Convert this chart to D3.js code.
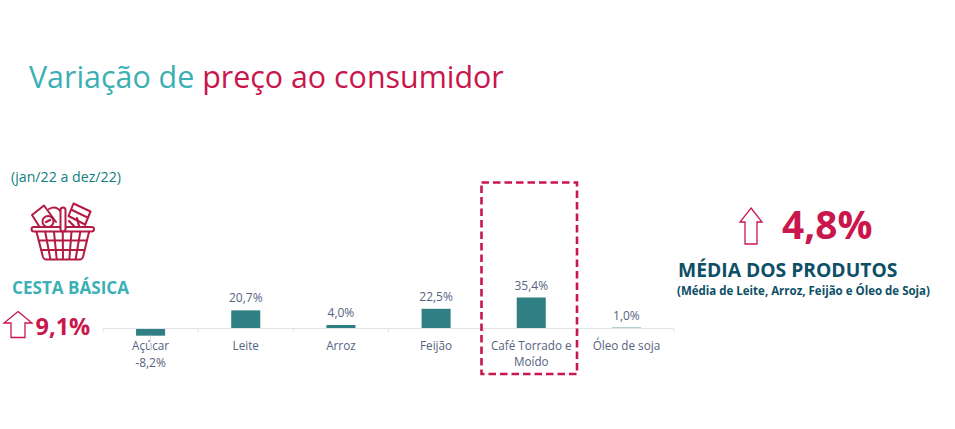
<!DOCTYPE html>
<html lang="pt-BR">
<head>
<meta charset="utf-8">
<title>Variação de preço ao consumidor</title>
<script src="https://cdn.jsdelivr.net/npm/d3@7/dist/d3.min.js"></script>
<style>
  html, body { margin: 0; padding: 0; background: #fff; }
  svg { display: block; font-family: "Open Sans", "Noto Sans", sans-serif; }
</style>
</head>
<body>
<svg id="chart" width="955" height="429"></svg>
<script>
// Variação de preço por produto, jan/22 a dez/22
const categories = ["Açúcar", "Leite", "Arroz", "Feijão", "Café Torrado e|Moído", "Óleo de soja"];
const values = [-8.2, 20.7, 4.0, 22.5, 35.4, 1.0];

const TEAL = "#3bb0b5", CRIMSON = "#c9164c", BAR = "#2f7f84",
      DARK = "#0d4f66", LABEL = "#56637f", GRID = "#dfe3ea", ICON = "#b31b42";
const fmt = v => v.toFixed(1).replace(".", ",") + "%";

const svg = d3.select("#chart");

// Título em duas cores
const title = svg.append("text").attr("x", 29).attr("y", 87.5).attr("font-size", 30.4);
title.append("tspan").attr("fill", TEAL).text("Variação de ");
title.append("tspan").attr("fill", CRIMSON).text("preço ao consumidor");

// Escalas do gráfico de colunas
const x = d3.scaleBand().domain(categories).range([103, 674]).paddingInner(0.695).paddingOuter(0.3475);
const y = d3.scaleLinear().domain([0, 35.4]).range([328.5, 297.5]);
const step = x.step();
const x0 = x.range()[0];

// Colunas
svg.append("g").selectAll("rect").data(values).join("rect")
    .attr("x", (d, i) => x(categories[i]))
    .attr("width", x.bandwidth())
    .attr("y", d => y(Math.max(d, 0)))
    .attr("height", d => Math.abs(y(d) - y(0)))
    .attr("fill", BAR);

// Eixo de categorias: linha de base e marcas nas divisas de cada faixa
const axis = svg.append("g");
axis.append("line").attr("x1", x0).attr("x2", x.range()[1])
    .attr("y1", y(0)).attr("y2", y(0)).attr("stroke", GRID);
axis.selectAll("line.tick").data(d3.range(categories.length + 1)).join("line")
    .attr("class", "tick")
    .attr("x1", i => x0 + i * step).attr("x2", i => x0 + i * step)
    .attr("y1", y(0)).attr("y2", y(0) + 4).attr("stroke", GRID);

// Nomes das categorias, em até duas linhas
svg.append("g").selectAll("text").data(categories).join("text")
    .attr("text-anchor", "middle").attr("font-size", 11.7).attr("fill", LABEL)
    .each(function (d) {
      const cx = x(d) + x.bandwidth() / 2;
      d3.select(this).selectAll("tspan").data(d.split("|")).join("tspan")
        .attr("x", cx).attr("y", (s, i) => 349.5 + i * 16.5).text(s => s);
    });

// Rótulos de valor; o negativo fica abaixo do nome, ligado à coluna
const labelled = values.map((v, i) => ({ v, c: categories[i] }));
svg.append("g").selectAll("line").data(labelled.filter(d => d.v < 0)).join("line")
    .attr("x1", d => x(d.c) + x.bandwidth() / 2).attr("x2", d => x(d.c) + x.bandwidth() / 2)
    .attr("y1", d => y(d.v)).attr("y2", d => y(d.v) + 15)
    .attr("stroke", GRID);
svg.append("g").selectAll("text").data(labelled).join("text")
    .attr("text-anchor", "middle").attr("font-size", 12).attr("fill", LABEL)
    .attr("x", d => x(d.c) + x.bandwidth() / 2)
    .attr("y", d => d.v < 0 ? 366.5 : y(d.v) - 8)
    .text(d => fmt(d.v));

// Destaque tracejado em Café Torrado e Moído
svg.append("rect").attr("x", 481.5).attr("y", 182.5).attr("width", 95.5).attr("height", 191.5)
    .attr("fill", "none").attr("stroke", CRIMSON).attr("stroke-width", 2.6)
    .attr("stroke-dasharray", "7.5 4");

// Seta vazada para cima
function arrow(left, top, right, bottom, headBase, inset) {
  const mid = (left + right) / 2;
  const p = d3.path();
  p.moveTo(mid, top);
  p.lineTo(right, headBase);
  p.lineTo(right - inset, headBase);
  p.lineTo(right - inset, bottom);
  p.lineTo(left + inset, bottom);
  p.lineTo(left + inset, headBase);
  p.lineTo(left, headBase);
  p.closePath();
  svg.append("path").attr("d", p.toString()).attr("fill", "#fff")
     .attr("stroke", CRIMSON).attr("stroke-width", 1.3).attr("stroke-linejoin", "miter");
}
arrow(4, 311.5, 32, 337.5, 323, 7);
arrow(740, 208, 762, 244, 222, 5);

// Coluna esquerda: período, cesta e variação
svg.append("text").attr("x", 11).attr("y", 182).attr("font-size", 14.2)
   .attr("fill", "#11807f").text("(jan/22 a dez/22)");
svg.append("text").attr("x", 12).attr("y", 293.5).attr("font-size", 17.1).attr("font-weight", 700)
   .attr("fill", TEAL).text("CESTA BÁSICA");
svg.append("text").attr("x", 35.5).attr("y", 334.5).attr("font-size", 23.5).attr("font-weight", 700)
   .attr("fill", CRIMSON).text("9,1%");

// Ícone da cesta de compras
const icon = svg.append("g").attr("fill", "none").attr("stroke", ICON)
    .attr("stroke-width", 2).attr("stroke-linejoin", "round").attr("stroke-linecap", "round");
icon.append("path").attr("d", "M49 209 Q56 205 61 212");
icon.append("path").attr("d", "M32 215 L44 205.5 L56 222 M32 215 L39 226");
icon.append("circle").attr("cx", 48).attr("cy", 221.5).attr("r", 5.5);
icon.append("path").attr("d", "M46 222 L50 220").attr("stroke-width", 2.4);
icon.append("path").attr("d", "M73.5 203.5 L90.5 211.5 L85 225 M73.5 203.5 L68.5 216 L85 224.5 M71 209.5 L87.5 217.5");
icon.append("path").attr("d", "M69 221 L74 226 M77 218 L79 226").attr("stroke-width", 2.2);
icon.append("rect").attr("x", 60.5).attr("y", 207.5).attr("width", 5).attr("height", 24).attr("rx", 2.5)
    .attr("fill", "#fff");
icon.append("path").attr("d", "M60 227 L34 227 Q31.5 227 31.5 229 Q31.5 231.5 34 231.5 L91.5 231.5 Q94 231.5 94 229 Q94 227 91.5 227 L66 227");
icon.append("path").attr("d", "M36.5 232 L43 257 Q44 259.5 46 259.5 L80 259.5 Q82 259.5 83 257 L89 232");
const grid = icon.append("g");
d3.range(1, 6).forEach(k => {
  const t = k / 6;
  grid.append("path").attr("d", `M${36.5 + t * 52.5} 232 L${44 + t * 38} 259`);
});
[240.5, 250].forEach(h => {
  const inset = (h - 232) * 6.5 / 25;
  grid.append("path").attr("d", `M${36.5 + inset} ${h} L${89 - inset} ${h}`);
});

// Coluna direita: média dos produtos
svg.append("text").attr("x", 782).attr("y", 239).attr("font-size", 38.8).attr("font-weight", 700)
   .attr("fill", CRIMSON).text("4,8%");
svg.append("text").attr("x", 678).attr("y", 277).attr("font-size", 19.3).attr("font-weight", 700)
   .attr("fill", DARK).text("MÉDIA DOS PRODUTOS");
svg.append("text").attr("x", 677).attr("y", 295).attr("font-size", 11.5).attr("font-weight", 700)
   .attr("fill", DARK).text("(Média de Leite, Arroz, Feijão e Óleo de Soja)");
</script>
</body>
</html>
